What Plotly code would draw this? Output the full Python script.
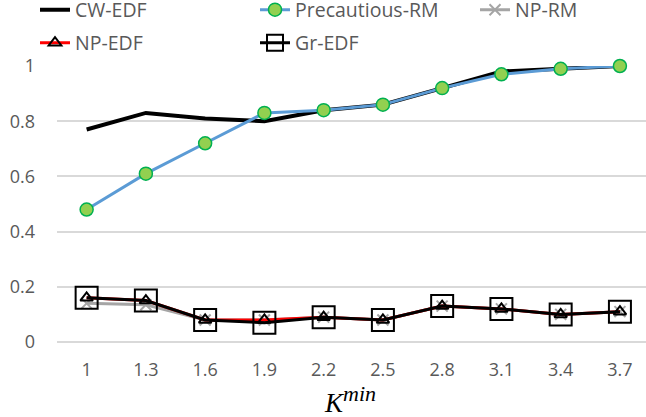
import plotly.graph_objects as go

categories = ["1", "1.3", "1.6", "1.9", "2.2", "2.5", "2.8", "3.1", "3.4", "3.7"]
cw_edf = [0.77, 0.83, 0.81, 0.80, 0.84, 0.86, 0.92, 0.98, 0.99, 1.0]
precautious_rm = [0.48, 0.61, 0.72, 0.83, 0.84, 0.86, 0.92, 0.97, 0.99, 1.0]
np_rm = [0.14, 0.135, 0.08, 0.08, 0.09, 0.08, 0.13, 0.12, 0.10, 0.11]
np_edf = [0.16, 0.15, 0.08, 0.08, 0.09, 0.08, 0.13, 0.12, 0.10, 0.11]
gr_edf = [0.16, 0.15, 0.08, 0.07, 0.09, 0.08, 0.13, 0.12, 0.10, 0.11]
y_ticks = [0, 0.2, 0.4, 0.6, 0.8, 1]
y_tick_labels = ["0", "0.2", "0.4", "0.6", "0.8", "1"]

FONT = "Open Sans"
GRAY = "#595959"
W, H = 646, 417
ML, MR, MT, MB = 57, 0, 66, 75
PW, PH = W - ML - MR, H - MT - MB

fig = go.Figure()
fig.add_trace(go.Scatter(x=categories, y=cw_edf, name="CW-EDF", mode="lines",
                         line=dict(color="black", width=4), legend="legend", cliponaxis=False))
fig.add_trace(go.Scatter(x=categories, y=precautious_rm, name="Precautious-RM", mode="lines+markers",
                         line=dict(color="#5B9BD5", width=3),
                         marker=dict(symbol="circle", size=13, color="#92D050",
                                     line=dict(color="#00B050", width=1.5)),
                         legend="legend2", cliponaxis=False))
fig.add_trace(go.Scatter(x=categories, y=np_rm, name="NP-RM", mode="lines+markers",
                         line=dict(color="#A5A5A5", width=3),
                         marker=dict(symbol="x-thin-open", size=11, color="#A5A5A5",
                                     line=dict(color="#A5A5A5", width=2)),
                         legend="legend3", cliponaxis=False))
fig.add_trace(go.Scatter(x=categories, y=np_edf, name="NP-EDF", mode="lines+markers",
                         line=dict(color="#FF0000", width=3),
                         marker=dict(symbol="triangle-up-open", size=11, color="black",
                                     line=dict(color="black", width=2)),
                         legend="legend4", cliponaxis=False))
fig.add_trace(go.Scatter(x=categories, y=gr_edf, name="Gr-EDF", mode="lines+markers",
                         line=dict(color="black", width=3),
                         marker=dict(symbol="square-open", size=22, color="black",
                                     line=dict(color="black", width=2)),
                         legend="legend5", cliponaxis=False))

def leg(px, py):
    return dict(x=(px - ML) / PW, y=(H - py - MB) / PH, xref="paper", yref="paper",
                xanchor="left", yanchor="middle", visible=True,
                bgcolor="rgba(0,0,0,0)", font=dict(family=FONT, size=19.5, color=GRAY),
                itemwidth=30, tracegroupgap=0)

fig.update_layout(
    width=W, height=H, showlegend=True,
    margin=dict(l=ML, r=MR, t=MT, b=MB, autoexpand=False),
    paper_bgcolor="white", plot_bgcolor="white",
    legend=leg(35, 10),
    legend2=leg(255, 10),
    legend3=leg(475, 10),
    legend4=leg(35, 43),
    legend5=leg(255, 43),
    xaxis=dict(type="category", range=[-0.5, 9.44], showgrid=False, showline=False,
               automargin=False, ticks="", ticklabelstandoff=15,
               tickfont=dict(family=FONT, size=18, color=GRAY)),
    yaxis=dict(range=[0, 1.0], tickvals=y_ticks, ticktext=y_tick_labels,
               showgrid=True, gridcolor="#D9D9D9", gridwidth=1.5,
               zeroline=True, zerolinecolor="#D9D9D9", zerolinewidth=1.5,
               showline=False, ticks="", ticklabelstandoff=21, automargin=False,
               tickfont=dict(family=FONT, size=18, color=GRAY)),
    annotations=[dict(text="<i>K</i><sup><span style='font-size:22px'><i>min</i></span></sup>",
                      xref="paper", yref="paper",
                      x=(350 - ML) / PW, y=(-3 - MB) / PH, xanchor="center", yanchor="bottom",
                      showarrow=False,
                      font=dict(family="Liberation Serif", size=27, color="black"))],
)

fig.write_html("out.html", config={"displayModeBar": False},
               post_script="document.body.style.margin='0';")
